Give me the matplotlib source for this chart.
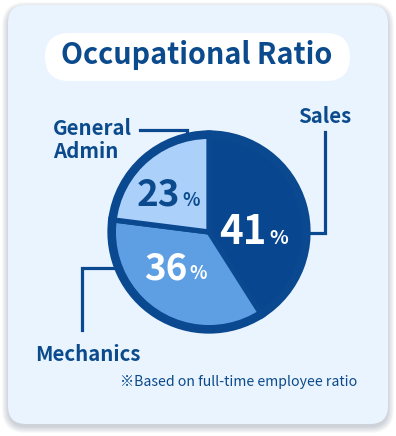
import matplotlib.pyplot as plt
from matplotlib.patches import FancyBboxPatch, Circle

plt.rcParams['font.family'] = ['Noto Sans CJK JP', 'DejaVu Sans']

# data
labels = ["Sales", "Mechanics", "General\nAdmin"]
values = [41, 36, 23]
colors = ["#08478f", "#5e9fe4", "#abd1fb"]
pct_colors = ["white", "white", "#0b4a8c"]
title = "Occupational Ratio"
note = "※Based on full-time employee ratio"

W, H = 396, 436
DARK = "#0a4890"
TXT = "#0b4a8c"
BG = "#eaf4fe"

def Y(y):  # pixel row -> data y
    return H - y

fig = plt.figure(figsize=(W / 100, H / 100), dpi=100)
ax = fig.add_axes([0, 0, 1, 1])

# card + soft shadow
for i in range(7):
    sh = FancyBboxPatch((8 - i, Y(424) - 3 - i), 380 + 2 * i, 419 + 2 * i,
                        boxstyle="round,pad=0,rounding_size=%d" % (18 + i),
                        fc="#1a3050", ec="none", alpha=0.03, zorder=0)
    ax.add_patch(sh)
card = FancyBboxPatch((8, Y(424)), 380, 419, boxstyle="round,pad=0,rounding_size=18",
                      fc=BG, ec="none", zorder=1)
ax.add_patch(card)

# title pill
pill = FancyBboxPatch((45, Y(81)), 305, 48, boxstyle="round,pad=0,rounding_size=24",
                      fc="white", ec="none", zorder=2)
ax.add_patch(pill)
ax.text(197, Y(64.5), title, ha="center", va="baseline", fontsize=20.7,
        fontweight="bold", color=TXT, zorder=3)

# pie
cx, cy, r = 209, Y(232), 99
wedges, _ = ax.pie(values, colors=colors, startangle=90, counterclock=False,
                   center=(cx, cy), radius=r, frame=True,
                   wedgeprops=dict(edgecolor=DARK, linewidth=3.8, joinstyle="miter"))
for w in wedges:
    w.set_zorder(4)
ax.add_patch(Circle((cx, cy), r - 2.5, fill=False, ec=DARK, lw=5, zorder=5))

# percentage labels (number + small %)
pct_pos = [(267, 244, 29, 14), (187, 279, 26.5, 13), (180, 206, 26.5, 13)]
for v, c, (x, yb, fs, fs2) in zip(values, pct_colors, pct_pos):
    ax.text(x, Y(yb), str(v), ha="right", va="baseline", fontsize=fs,
            fontweight="bold", color=c, zorder=6)
    ax.text(x + 2, Y(yb), "%", ha="left", va="baseline", fontsize=fs2,
            fontweight="bold", color=c, zorder=6)

# category labels and leader lines
ax.text(298, Y(123), labels[0], ha="left", va="baseline", fontsize=14.7,
        fontweight="bold", color=TXT, zorder=6)
ax.plot([306, 325, 325], [Y(233), Y(233), Y(132)], color=DARK, lw=2.3,
        solid_joinstyle="miter", zorder=3)

ax.text(35, Y(361), labels[1], ha="left", va="baseline", fontsize=14.7,
        fontweight="bold", color=TXT, zorder=6)
ax.plot([118, 82, 82], [Y(268), Y(268), Y(330)], color=DARK, lw=2.3,
        solid_joinstyle="miter", zorder=3)

ax.text(53, Y(158), labels[2], ha="left", va="baseline", fontsize=14.7,
        fontweight="bold", color=TXT, linespacing=1.1, zorder=6)
ax.plot([140, 187, 187], [Y(130), Y(130), Y(138)], color=DARK, lw=2.3,
        solid_joinstyle="miter", zorder=3)

ax.text(120, Y(386), note, ha="left", va="baseline", fontsize=10.2,
        color=TXT, zorder=6)

ax.set_xlim(0, W)
ax.set_ylim(0, H)
ax.set_aspect("auto")
ax.axis("off")
fig.savefig("out.png", dpi=100, facecolor="white")
